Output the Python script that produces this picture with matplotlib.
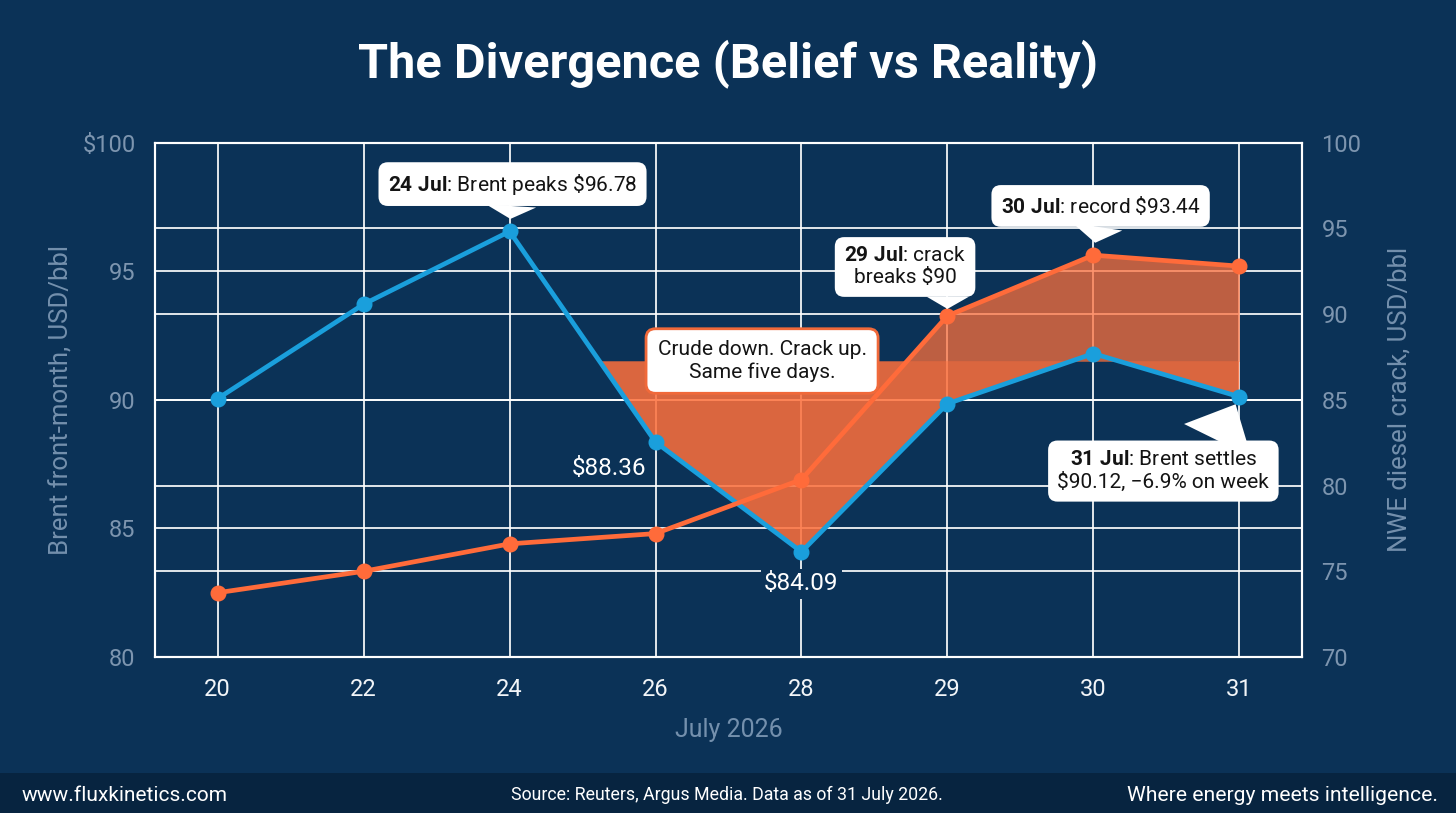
import numpy as np
import matplotlib
matplotlib.use("Agg")
import matplotlib.pyplot as plt
from matplotlib.patches import Rectangle

# ---------------- data ----------------
dates = ["20", "22", "24", "26", "28", "29", "30", "31"]
brent = [90.05, 93.72, 96.55, 88.36, 84.09, 89.85, 91.80, 90.12]   # USD/bbl, left axis
crack = [73.75, 75.0, 76.6, 77.2, 80.35, 89.9, 93.44, 92.8]        # USD/bbl, right axis
left_ticks = [80, 85, 90, 95, 100]
left_tick_labels = ["80", "85", "90", "95", "$100"]
right_ticks = [70, 75, 80, 85, 90, 95, 100]
right_tick_labels = ["70", "75", "80", "85", "90", "95", "100"]

# ---------------- style ----------------
BG = "#0b3257"
FOOT = "#072440"
BLUE = "#1a9fdc"
ORANGE = "#ff6b3a"
FILL = "#fd6f3b"
TICKC = "#7d95af"
LABELC = "#7490ad"
FILL_LEVEL = 91.5  # left-axis level used as the top of the shaded band

plt.rcParams["font.family"] = ["Roboto", "DejaVu Sans"]
plt.rcParams["mathtext.fontset"] = "custom"
plt.rcParams["mathtext.rm"] = "Roboto"
plt.rcParams["mathtext.bf"] = "Roboto:bold"
plt.rcParams["mathtext.it"] = "Roboto:italic"

fig = plt.figure(figsize=(14.56, 8.13), dpi=100, facecolor=BG)
ax = fig.add_axes([155 / 1456, 1 - 657 / 813, 1147 / 1456, (657 - 142.7) / 813])
ax.set_facecolor(BG)
ax2 = ax.twinx()

x = np.arange(len(dates))
ax.set_xlim(-0.43, len(dates) - 1 + 0.43)
ax.set_ylim(80, 100)
ax2.set_ylim(70, 100)

# grids
ax.set_axisbelow(True)
ax2.set_axisbelow(True)
ax.grid(True, axis="both", color="white", lw=1.3, alpha=0.95)
ax2.grid(True, axis="y", color="white", lw=1.3, alpha=0.95)
for a in (ax, ax2):
    for s in a.spines.values():
        s.set_color("white")
        s.set_linewidth(1.5)

# ticks
ax.set_xticks(x)
ax.set_xticklabels(dates)
ax.set_yticks(left_ticks)
ax.set_yticklabels(left_tick_labels)
ax2.set_yticks(right_ticks)
ax2.set_yticklabels(right_tick_labels)
ax.tick_params(axis="x", length=0, pad=15, labelsize=17, labelcolor="#f2f5f8")
ax.tick_params(axis="y", length=0, pad=14, labelsize=17, labelcolor=TICKC)
ax2.tick_params(axis="y", length=0, pad=14, labelsize=17, labelcolor=TICKC)

ax.set_xlabel("July 2026", color=LABELC, fontsize=18, labelpad=12)
ax.set_ylabel("Brent front-month, USD/bbl", color=LABELC, fontsize=18.5, labelpad=6)
ax2.set_ylabel("NWE diesel crack, USD/bbl", color=LABELC, fontsize=18.5, labelpad=19)

# ---------------- shaded divergence band ----------------
xs = np.linspace(2, len(dates) - 1, 3001)
b_i = np.interp(xs, x, brent)
c_i = np.interp(xs, x, crack)
lo_l, hi_l = ax.get_ylim()
lo_r, hi_r = ax2.get_ylim()
level_r = lo_r + (FILL_LEVEL - lo_l) * (hi_r - lo_r) / (hi_l - lo_l)
ax2.fill_between(xs, b_i, FILL_LEVEL, where=b_i < FILL_LEVEL, interpolate=True,
                 transform=ax.transData, color=FILL, alpha=0.86, lw=0, zorder=2)
ax2.fill_between(xs, level_r, c_i, where=c_i > level_r, interpolate=True,
                 color=FILL, alpha=0.74, lw=0, zorder=2)

# ---------------- lines ----------------
ax2.plot(x, brent, color=BLUE, lw=3.4, marker="o", ms=10.5, mec=BLUE,
         transform=ax.transData, zorder=4, solid_joinstyle="round")
ax2.plot(x, crack, color=ORANGE, lw=3.4, marker="o", ms=10.5, mec=ORANGE,
         zorder=5, solid_joinstyle="round")
ax.set_ylim(80, 100)
ax2.set_ylim(70, 100)
ax.set_xlim(-0.43, len(dates) - 1 + 0.43)

# ---------------- callouts ----------------
box = dict(boxstyle="round,pad=0.45,rounding_size=0.45", fc="white", ec="none")


def callout(text, xy, trans, xytext, relpos=(0.5, 0.5), shrinkB=8, tw=2.4):
    ax2.annotate(text, xy=xy, xycoords=trans, xytext=xytext, textcoords=trans,
                 ha="center", va="center", fontsize=15, color="#141414",
                 linespacing=1.2, bbox=box, zorder=10,
                 arrowprops=dict(arrowstyle=f"wedge,tail_width={tw},shrink_factor=0.5",
                                 fc="white", ec="none", relpos=relpos,
                                 shrinkA=0, shrinkB=shrinkB))


callout(r"$\bf{24\ Jul}$: Brent peaks \$96.78", (x[2], brent[2]), ax.transData,
        (2.02, 98.39), shrinkB=9)
callout(r"$\bf{30\ Jul}$: record \$93.44", (x[6], crack[6]), ax2.transData,
        (6.05, 96.31), shrinkB=9)
callout("$\\bf{29\\ Jul}$: crack\nbreaks $90", (x[5], crack[5]), ax2.transData,
        (4.71, 92.75), relpos=(0.85, 0.3), shrinkB=5, tw=2.0)
callout("$\\bf{31\\ Jul}$: Brent settles\n$90.12, \u22126.9% on week", (x[7], brent[7]),
        ax.transData, (6.48, 87.23), relpos=(0.72, 0.85), shrinkB=6, tw=3.6)

ax2.annotate("Crude down. Crack up.\nSame five days.", xy=(3.73, 91.51), xycoords=ax.transData,
             ha="center", va="center", fontsize=15, color="#141414", linespacing=1.2,
             bbox=dict(boxstyle="round,pad=0.55,rounding_size=0.45", fc="white",
                       ec="#f0693a", lw=2), zorder=10)

# value labels
ax2.annotate(f"${brent[3]:.2f}", xy=(x[3], brent[3]), xycoords=ax.transData,
             xytext=(-7, -19), textcoords="offset points", ha="right", va="center",
             fontsize=17.5, color="white", zorder=9)
ax2.annotate(f"${brent[4]:.2f}", xy=(x[4], brent[4]), xycoords=ax.transData,
             xytext=(0, -23), textcoords="offset points", ha="center", va="center",
             fontsize=17.5, color="white", zorder=9,
             bbox=dict(boxstyle="square,pad=0.15", fc=BG, ec="none"))

# ---------------- title & footer ----------------
fig.text(0.5, 1 - 77 / 813, "The Divergence (Belief vs Reality)", ha="center",
         va="baseline", fontsize=35, fontweight="bold", color="white")

fig.add_artist(Rectangle((0, 0), 1, 40 / 813, transform=fig.transFigure,
                         facecolor=FOOT, edgecolor="none", zorder=0))
fy = 1 - 795 / 813
fig.text(22 / 1456, fy, "www.fluxkinetics.com", ha="left", va="center",
         fontsize=15, color="white")
fig.text(727 / 1456, fy, "Source: Reuters, Argus Media. Data as of 31 July 2026.",
         ha="center", va="center", fontsize=12.8, color="white")
fig.text(1 - 18 / 1456, fy, "Where energy meets intelligence.", ha="right",
         va="center", fontsize=15.2, color="white")

fig.savefig("out.png", dpi=100, facecolor=BG)
